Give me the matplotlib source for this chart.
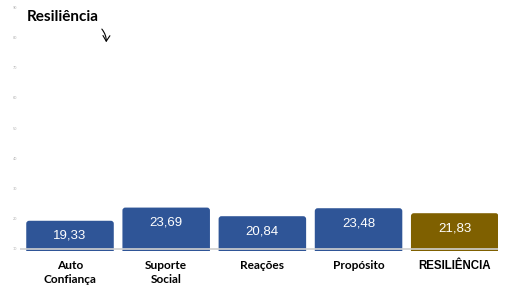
import matplotlib
matplotlib.use("Agg")
import matplotlib.pyplot as plt
from matplotlib.patches import FancyBboxPatch, FancyArrowPatch

# ---------------- Data ----------------
categories = ["Auto\nConfiança", "Suporte\nSocial", "Reações", "Propósito", "RESILIÊNCIA"]
values = [19.33, 23.69, 20.84, 23.48, 21.83]
value_labels = ["19,33", "23,69", "20,84", "23,48", "21,83"]
yticks = [10, 20, 30, 40, 50, 60, 70, 80, 90]

blue = "#2F5597"
olive = "#7F6000"
colors = [blue, blue, blue, blue, olive]

# ---------------- Figure ----------------
fig = plt.figure(figsize=(5.1, 2.93), dpi=100)
ax = fig.add_axes([20/510, (293-250.5)/293, (498-20)/510, (250.5-4)/293])

bars = ax.bar(range(len(values)), values, width=0.91, color=colors)
ax.set_xlim(-0.52, 4.45)
ax.set_ylim(9.5, 91)

# rounded top corners: swap each bar for a rounded patch of the same geometry
x_px = 96.3
y_px = 3.025
for b in bars:
    b.set_visible(False)
    p = FancyBboxPatch((b.get_x(), b.get_y()), b.get_width(), b.get_height(),
                       boxstyle="round,pad=0,rounding_size=0.03",
                       mutation_aspect=x_px / y_px,
                       facecolor=b.get_facecolor(), edgecolor="none", zorder=2)
    ax.add_patch(p)

ax.axhline(10, color="#d0d0d0", lw=1.2, zorder=3)

for i, (v, lab) in enumerate(zip(values, value_labels)):
    ax.text(i, v - 15 / y_px, lab, ha="center", va="center", color="white",
            fontsize=9.5, family="Liberation Sans", zorder=4)

ax.set_yticks(yticks)
ax.set_yticklabels([str(t) for t in yticks], fontsize=2.5, color="#b0b0b0")
ax.tick_params(axis="y", length=0, pad=2)
ax.set_xticks(range(len(categories)))
ax.set_xticklabels(categories, fontsize=8.6, fontweight="bold", family="Lato",
                   linespacing=1.35)
ax.get_xticklabels()[-1].set_family("Liberation Sans")
ax.get_xticklabels()[-1].set_fontsize(8.3)
ax.tick_params(axis="x", length=0, pad=6.5)
for s in ax.spines.values():
    s.set_visible(False)

fig.text(27/510, 1 - 17/293, "Resiliência", fontsize=11, fontweight="bold",
         family="Lato", va="center", ha="left")
fig.add_artist(FancyArrowPatch(
    (100/510, 1 - 27/293), (106/510, 1 - 45/293), transform=fig.transFigure,
    arrowstyle="->,head_length=4,head_width=2.5", connectionstyle="arc3,rad=-0.25",
    color="black", lw=0.8))

fig.savefig("out.png", dpi=100)
